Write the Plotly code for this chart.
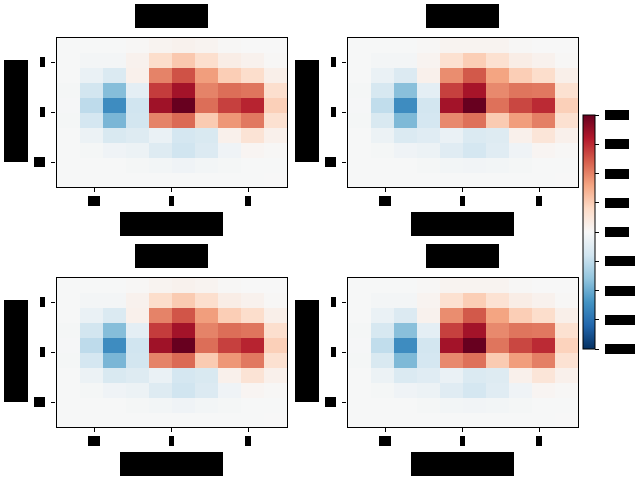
import plotly.express as px
import plotly.graph_objects as go

# text in the reference is masked by black boxes, so labels here are stand-ins
x_vals = [-1.35, -1.05, -0.75, -0.45, -0.15, 0.15, 0.45, 0.75, 1.05, 1.35]
y_vals = [1.35, 1.05, 0.75, 0.45, 0.15, -0.15, -0.45, -0.75, -1.05, -1.35]
tick_vals = [-1, 0, 1]
tick_text = ["-1", "0", "1"]
cbar_ticks = [-1.0, -0.75, -0.5, -0.25, 0.0, 0.25, 0.5, 0.75, 1.0]
panel_titles = ["Panel 1", "Panel 2", "Panel 3", "Panel 4"]

z_1 = [
    [-0.005, -0.005, -0.005, 0.01, 0.03, 0.04, 0.03, 0.01, 0.00, 0.00],
    [-0.005, -0.02, -0.02, 0.04, 0.18, 0.27, 0.17, 0.07, 0.04, 0.01],
    [-0.005, -0.07, -0.15, 0.05, 0.50, 0.64, 0.42, 0.25, 0.18, 0.06],
    [-0.015, -0.19, -0.43, -0.10, 0.70, 0.84, 0.50, 0.56, 0.54, 0.17],
    [-0.01, -0.26, -0.63, -0.20, 0.85, 1.00, 0.56, 0.69, 0.77, 0.24],
    [-0.015, -0.18, -0.46, -0.19, 0.50, 0.57, 0.26, 0.44, 0.53, 0.16],
    [-0.005, -0.06, -0.16, -0.13, -0.07, -0.18, -0.16, 0.05, 0.14, 0.05],
    [-0.005, -0.015, -0.04, -0.06, -0.13, -0.20, -0.14, -0.04, 0.02, 0.01],
    [-0.005, -0.005, -0.005, -0.015, -0.025, -0.04, -0.025, -0.015, -0.005, -0.005],
    [-0.005, -0.005, -0.005, -0.005, -0.005, -0.005, -0.005, -0.005, -0.005, 0.00],
]
z_2 = [
    [-0.005, -0.005, -0.005, 0.01, 0.03, 0.03, 0.03, 0.01, 0.00, 0.00],
    [-0.005, -0.02, -0.02, 0.03, 0.16, 0.25, 0.16, 0.07, 0.04, 0.01],
    [-0.005, -0.07, -0.14, 0.05, 0.47, 0.62, 0.40, 0.25, 0.18, 0.06],
    [-0.015, -0.17, -0.42, -0.10, 0.69, 0.83, 0.48, 0.54, 0.53, 0.16],
    [-0.01, -0.25, -0.63, -0.19, 0.84, 1.00, 0.55, 0.67, 0.75, 0.24],
    [-0.015, -0.16, -0.45, -0.18, 0.48, 0.55, 0.26, 0.42, 0.51, 0.16],
    [-0.005, -0.06, -0.15, -0.12, -0.07, -0.15, -0.13, 0.05, 0.13, 0.05],
    [-0.005, -0.015, -0.04, -0.06, -0.12, -0.18, -0.12, -0.04, 0.02, 0.01],
    [-0.005, -0.005, -0.005, -0.015, -0.025, -0.03, -0.025, -0.015, -0.005, -0.005],
    [-0.005, -0.005, -0.005, -0.005, -0.005, -0.005, -0.005, -0.005, -0.005, 0.00],
]
z_3 = [
    [-0.005, -0.005, -0.005, 0.01, 0.03, 0.04, 0.03, 0.01, 0.00, 0.00],
    [-0.005, -0.02, -0.02, 0.04, 0.18, 0.26, 0.17, 0.07, 0.04, 0.01],
    [-0.005, -0.07, -0.15, 0.05, 0.50, 0.63, 0.42, 0.25, 0.18, 0.06],
    [-0.015, -0.19, -0.43, -0.10, 0.70, 0.84, 0.50, 0.56, 0.54, 0.17],
    [-0.01, -0.26, -0.63, -0.20, 0.85, 1.00, 0.56, 0.69, 0.77, 0.24],
    [-0.015, -0.18, -0.46, -0.19, 0.50, 0.57, 0.26, 0.44, 0.53, 0.16],
    [-0.005, -0.06, -0.16, -0.13, -0.07, -0.18, -0.16, 0.05, 0.14, 0.05],
    [-0.005, -0.015, -0.04, -0.06, -0.13, -0.20, -0.14, -0.04, 0.02, 0.01],
    [-0.005, -0.005, -0.005, -0.015, -0.025, -0.04, -0.025, -0.015, -0.005, -0.005],
    [-0.005, -0.005, -0.005, -0.005, -0.005, -0.005, -0.005, -0.005, -0.005, 0.00],
]
z_4 = [
    [-0.005, -0.005, -0.005, 0.01, 0.03, 0.03, 0.03, 0.01, 0.00, 0.00],
    [-0.005, -0.02, -0.02, 0.03, 0.16, 0.25, 0.15, 0.07, 0.04, 0.01],
    [-0.005, -0.07, -0.14, 0.04, 0.47, 0.62, 0.40, 0.25, 0.18, 0.06],
    [-0.015, -0.17, -0.42, -0.10, 0.69, 0.84, 0.48, 0.54, 0.53, 0.16],
    [-0.01, -0.25, -0.63, -0.19, 0.84, 1.00, 0.54, 0.67, 0.75, 0.23],
    [-0.015, -0.16, -0.45, -0.18, 0.48, 0.55, 0.26, 0.42, 0.51, 0.15],
    [-0.005, -0.06, -0.15, -0.12, -0.07, -0.15, -0.13, 0.05, 0.13, 0.05],
    [-0.005, -0.015, -0.04, -0.06, -0.12, -0.18, -0.12, -0.04, 0.02, 0.01],
    [-0.005, -0.005, -0.005, -0.015, -0.025, -0.03, -0.025, -0.015, -0.005, -0.005],
    [-0.005, -0.005, -0.005, -0.005, -0.005, -0.005, -0.005, -0.005, -0.005, 0.00],
]
panels = [z_1, z_2, z_3, z_4]

W, H = 640, 480
PANEL_W, PANEL_H = 231, 150
LEFTS = [56, 347]
TOPS = [37, 277]


def px_x(v):
    return v / W


def px_y(v):
    return 1 - v / H


def masked(text, x0, y0, x1, y1, angle=0):
    """Label drawn as a black box, the way the reference shows it."""
    # plotly adds about a pixel to an annotation box along the text
    w, h = x1 - x0 - 1, y1 - y0
    if angle:
        w, h = y1 - y0 - 1, x1 - x0
    return dict(
        text=text, xref="paper", yref="paper",
        x=px_x((x0 + x1) / 2 - 0.5), y=px_y((y0 + y1) / 2),
        xanchor="center", yanchor="middle", showarrow=False,
        width=w, height=h, textangle=angle, borderpad=0, borderwidth=0,
        bgcolor="black", font=dict(size=8, color="black", family="DejaVu Sans"),
    )


fig = go.Figure()
colorscale = px.colors.diverging.RdBu_r
notes = []

for i, z in enumerate(panels):
    left = LEFTS[i % 2]
    top = TOPS[i // 2]
    n = "" if i == 0 else str(i + 1)
    fig.add_trace(go.Heatmap(
        x=x_vals, y=y_vals, z=z, xaxis="x" + n, yaxis="y" + n,
        colorscale=colorscale, zmin=-1, zmax=1, showscale=i == 0,
        colorbar=dict(
            x=px_x(583), xanchor="left", xpad=0,
            y=px_y(115), yanchor="top", ypad=0,
            len=234 / H, lenmode="fraction", thickness=12,
            outlinecolor="black", outlinewidth=1,
            tickmode="array", tickvals=cbar_ticks, ticktext=[""] * len(cbar_ticks),
            ticks="outside", ticklen=4, tickcolor="black", tickwidth=1,
        ),
    ))
    axis = dict(
        showgrid=False, zeroline=False, mirror=True, showline=True,
        linecolor="black", linewidth=1.2, ticks="outside", ticklen=4,
        tickcolor="black", tickmode="array", tickvals=tick_vals,
        ticktext=[""] * 3, range=[-1.5, 1.5],
    )
    fig.update_layout({
        "xaxis" + n: dict(axis, domain=[px_x(left + 0.5), px_x(left + PANEL_W)],
                          anchor="y" + n),
        "yaxis" + n: dict(axis, domain=[px_y(top + PANEL_H), px_y(top + 0.5)],
                          anchor="x" + n),
    })

    cx = left + PANEL_W / 2
    notes.append(masked(panel_titles[i], cx - 37, top - 33, cx + 37, top - 9))
    notes.append(masked("x position (a.u.)", cx - 52, top + 175, cx + 52, top + 199))
    notes.append(masked("y position (a.u.)", left - 52, top + 23, left - 28, top + 126, angle=-90))
    # x tick labels, widths follow the masks
    for off, half, txt in [(-77, 6.5, "-1"), (0, 3, "0"), (77, 3.5, "1")]:
        notes.append(masked(txt, cx + off - half, top + 159, cx + off + half, top + 169))
    # y tick labels
    for off, width, txt in [(25, 6, "1"), (75, 6, "0"), (125, 12, "-1")]:
        notes.append(masked(txt, left - 10 - width, top + off - 5, left - 10, top + off + 5))

# colorbar labels sit next to their ticks
for val in cbar_ticks:
    py = 232 - val * 117
    right = 636 if val < 0 else 630
    notes.append(masked(f"{val:.2f}", 605, py - 5, right, py + 5))

fig.update_layout(
    width=W, height=H, autosize=False,
    margin=dict(l=0, r=0, t=0, b=0),
    paper_bgcolor="white", plot_bgcolor="white",
    annotations=notes,
)

# page margin would push the fixed-size figure 8px down and right
fig.write_html(
    "out.html",
    config={"displayModeBar": False},
    post_script="document.body.style.margin='0';",
)
